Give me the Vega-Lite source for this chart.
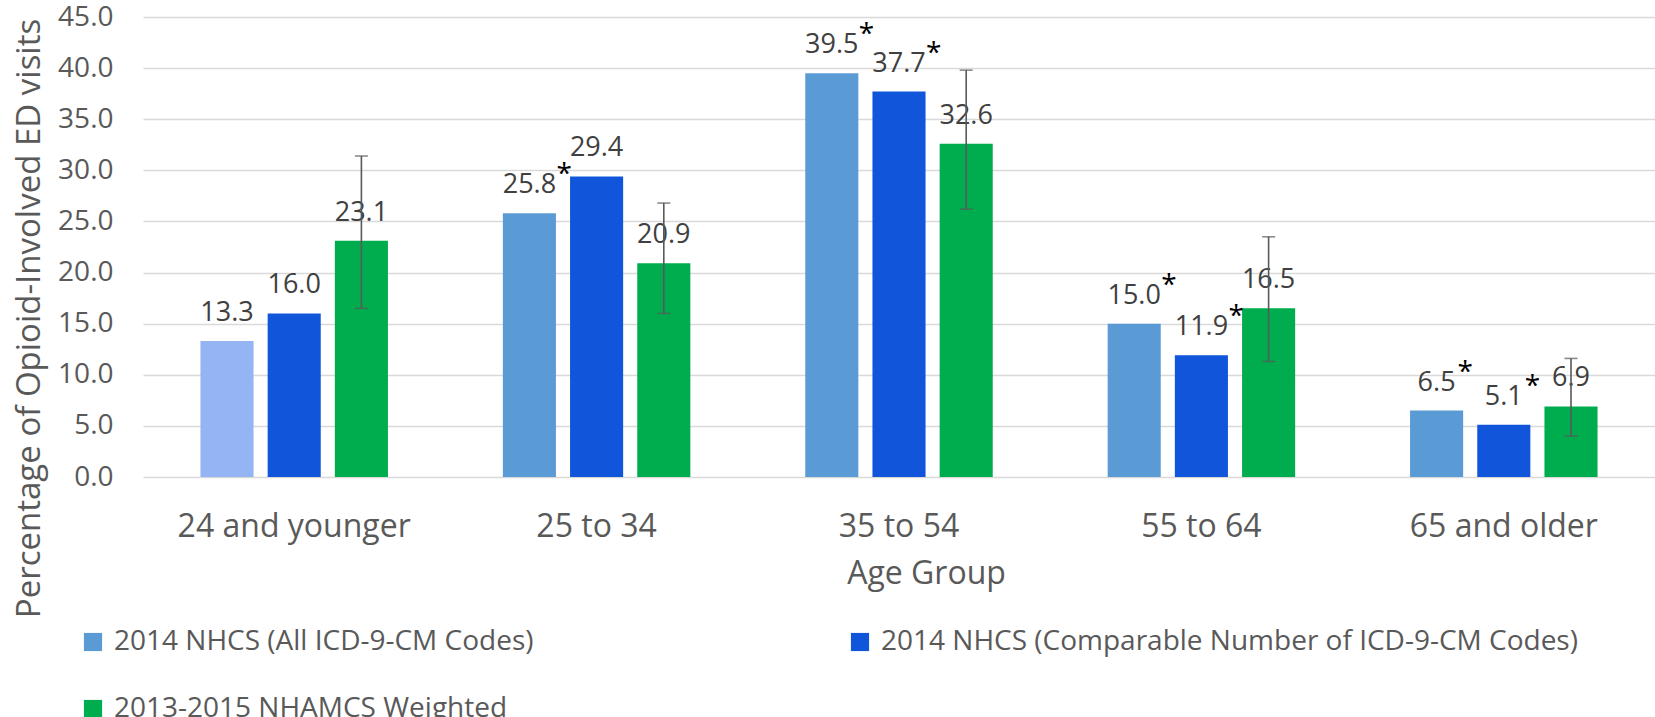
{
  "$schema": "https://vega.github.io/schema/vega-lite/v6.json",
  "autosize": {"type": "none"},
  "width": 1512,
  "height": 460,
  "padding": {"left": 143, "top": 17, "right": 0, "bottom": 240},
  "background": "white",
  "config": {
    "view": {"stroke": null},
    "font": "Open Sans",
    "text": {"font": "Open Sans"}
  },
  "data": {
    "values": [
      {"age": "24 and younger", "series": "2014 NHCS (All ICD-9-CM Codes)", "value": 13.3, "sig": ""},
      {"age": "24 and younger", "series": "2014 NHCS (Comparable Number of ICD-9-CM Codes)", "value": 16.0, "sig": ""},
      {"age": "24 and younger", "series": "2013-2015 NHAMCS Weighted", "value": 23.1, "low": 16.5, "high": 31.4, "sig": ""},
      {"age": "25 to 34", "series": "2014 NHCS (All ICD-9-CM Codes)", "value": 25.8, "sig": "*"},
      {"age": "25 to 34", "series": "2014 NHCS (Comparable Number of ICD-9-CM Codes)", "value": 29.4, "sig": ""},
      {"age": "25 to 34", "series": "2013-2015 NHAMCS Weighted", "value": 20.9, "low": 16.0, "high": 26.8, "sig": ""},
      {"age": "35 to 54", "series": "2014 NHCS (All ICD-9-CM Codes)", "value": 39.5, "sig": "*"},
      {"age": "35 to 54", "series": "2014 NHCS (Comparable Number of ICD-9-CM Codes)", "value": 37.7, "sig": "*"},
      {"age": "35 to 54", "series": "2013-2015 NHAMCS Weighted", "value": 32.6, "low": 26.2, "high": 39.8, "sig": ""},
      {"age": "55 to 64", "series": "2014 NHCS (All ICD-9-CM Codes)", "value": 15.0, "sig": "*"},
      {"age": "55 to 64", "series": "2014 NHCS (Comparable Number of ICD-9-CM Codes)", "value": 11.9, "sig": "*"},
      {"age": "55 to 64", "series": "2013-2015 NHAMCS Weighted", "value": 16.5, "low": 11.3, "high": 23.5, "sig": ""},
      {"age": "65 and older", "series": "2014 NHCS (All ICD-9-CM Codes)", "value": 6.5, "sig": "*"},
      {"age": "65 and older", "series": "2014 NHCS (Comparable Number of ICD-9-CM Codes)", "value": 5.1, "sig": "*"},
      {"age": "65 and older", "series": "2013-2015 NHAMCS Weighted", "value": 6.9, "low": 4.0, "high": 11.6, "sig": ""}
    ]
  },
  "encoding": {
    "x": {
      "field": "age", "type": "nominal", "sort": null,
      "scale": {"paddingInner": 0.38, "paddingOuter": 0.19},
      "axis": {
        "title": "Age Group",
        "titleFont": "Open Sans", "titleFontSize": 32, "titleFontWeight": "normal", "titleColor": "#595959",
        "titleX": 783, "titleY": 106, "titleBaseline": "alphabetic", "titleAlign": "center",
        "labelFont": "Open Sans", "labelFontSize": 32, "labelColor": "#595959",
        "labelAngle": 0, "labelBaseline": "alphabetic", "labelPadding": 59,
        "ticks": false, "tickSize": 0, "domain": false, "labelLimit": 400
      }
    },
    "xOffset": {
      "field": "series", "type": "nominal",
      "sort": ["2014 NHCS (All ICD-9-CM Codes)", "2014 NHCS (Comparable Number of ICD-9-CM Codes)", "2013-2015 NHAMCS Weighted"],
      "scale": {"paddingInner": 0.21, "paddingOuter": 0}
    }
  },
  "layer": [
    {
      "mark": {"type": "bar"},
      "encoding": {
        "y": {
          "field": "value", "type": "quantitative",
          "scale": {"domain": [0, 45], "nice": false, "zero": true},
          "axis": {
            "title": "Percentage of Opioid-Involved ED visits",
            "titleFont": "Open Sans", "titleFontSize": 33, "titleFontWeight": "normal", "titleColor": "#595959",
            "titleX": -104, "titleY": 301, "titleBaseline": "alphabetic", "titleAlign": "center", "titleAngle": -90,
            "values": [0, 5, 10, 15, 20, 25, 30, 35, 40, 45],
            "format": ".1f",
            "labelFont": "Open Sans", "labelFontSize": 28, "labelColor": "#595959",
            "labelPadding": 30, "ticks": false, "tickSize": 0, "domain": false,
            "grid": true, "gridColor": "#D9D9D9", "gridWidth": 1.4
          }
        },
        "color": {
          "condition": {
            "test": "datum.age === '24 and younger' && datum.series === '2014 NHCS (All ICD-9-CM Codes)'",
            "value": "#95B4F4"
          },
          "field": "series", "type": "nominal",
          "scale": {
            "domain": ["2014 NHCS (All ICD-9-CM Codes)", "2013-2015 NHAMCS Weighted", "2014 NHCS (Comparable Number of ICD-9-CM Codes)"],
            "range": ["#5B9BD5", "#00AD4E", "#1155DB"]
          },
          "legend": {
            "title": null,
            "orient": "none", "legendX": -64, "legendY": 611,
            "columns": 2, "columnPadding": 312, "rowPadding": 39,
            "symbolType": "square", "symbolSize": 330, "symbolStrokeWidth": 0,
            "labelFont": "Open Sans", "labelFontSize": 28, "labelColor": "#595959",
            "labelOffset": 7, "labelLimit": 800, "padding": 0
          }
        }
      }
    },
    {
      "mark": {"type": "text", "align": "center", "baseline": "alphabetic", "dy": -20, "fontSize": 27, "color": "#404040", "font": "Open Sans"},
      "encoding": {
        "y": {"field": "value", "type": "quantitative"},
        "text": {"field": "value", "type": "quantitative", "format": ".1f"}
      }
    },
    {
      "transform": [{"filter": "datum.sig === '*' && datum.value >= 10"}],
      "mark": {"type": "text", "align": "left", "baseline": "alphabetic", "dx": 27, "dy": -30, "fontSize": 28, "color": "#000000", "font": "Open Sans"},
      "encoding": {
        "y": {"field": "value", "type": "quantitative"},
        "text": {"field": "sig"}
      }
    },
    {
      "transform": [{"filter": "datum.sig === '*' && datum.value < 10"}],
      "mark": {"type": "text", "align": "left", "baseline": "alphabetic", "dx": 21, "dy": -30, "fontSize": 28, "color": "#000000", "font": "Open Sans"},
      "encoding": {
        "y": {"field": "value", "type": "quantitative"},
        "text": {"field": "sig"}
      }
    },
    {
      "transform": [{"filter": "isValid(datum.low)"}],
      "mark": {"type": "rule", "color": "#595959", "strokeWidth": 1.6},
      "encoding": {
        "y": {"field": "low", "type": "quantitative"},
        "y2": {"field": "high"}
      }
    },
    {
      "transform": [{"filter": "isValid(datum.low)"}],
      "mark": {"type": "tick", "color": "#595959", "thickness": 1.6, "size": 13, "orient": "horizontal"},
      "encoding": {
        "y": {"field": "low", "type": "quantitative"}
      }
    },
    {
      "transform": [{"filter": "isValid(datum.high)"}],
      "mark": {"type": "tick", "color": "#595959", "thickness": 1.6, "size": 13, "orient": "horizontal"},
      "encoding": {
        "y": {"field": "high", "type": "quantitative"}
      }
    }
  ]
}
